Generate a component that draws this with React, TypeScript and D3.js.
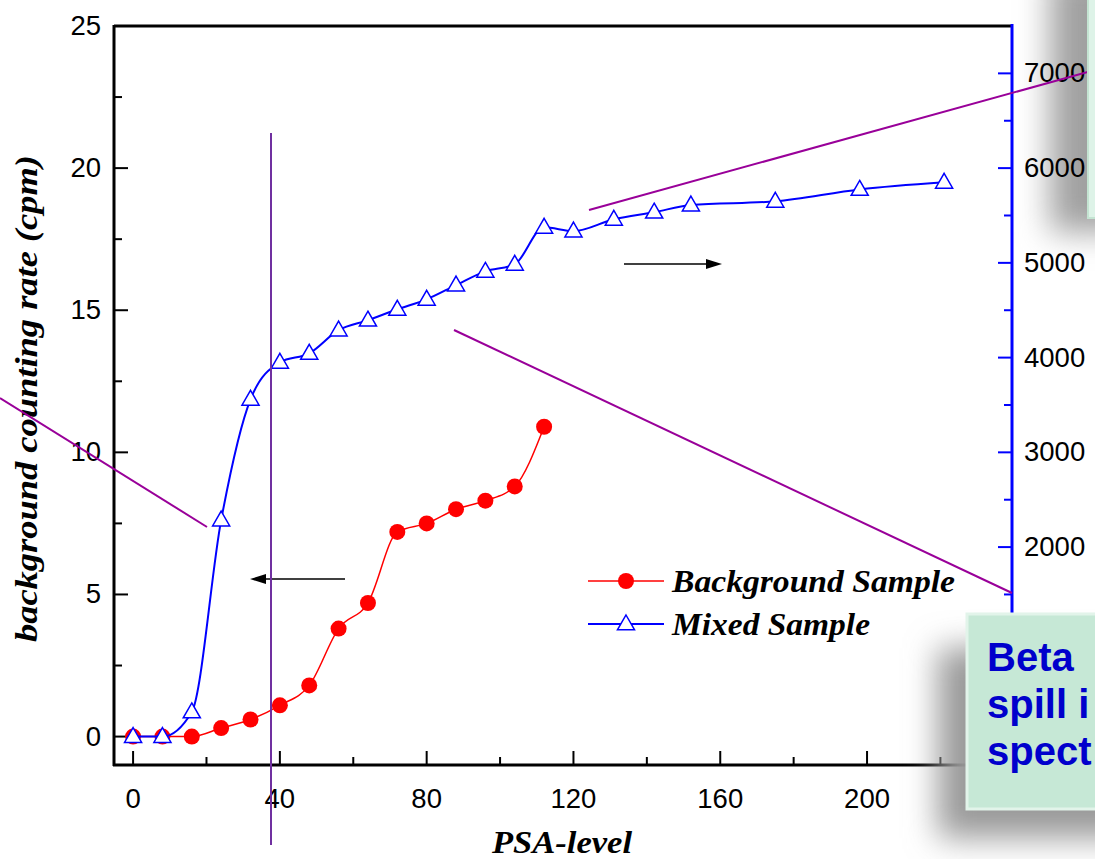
import React from "react";
import * as d3 from "d3";

const psaLevels = [0, 8, 16, 24, 32, 40, 48, 56, 64, 72, 80, 88, 96, 104, 112];
const backgroundCpm = [0, 0, 0, 0.3, 0.6, 1.1, 1.8, 3.8, 4.7, 7.2, 7.5, 8.0, 8.3, 8.8, 10.9];

const mixedLevels = [0, 8, 16, 24, 32, 40, 48, 56, 64, 72, 80, 88, 96, 104, 112, 120, 131, 142, 152, 175, 198, 221];
const mixedCounts = [0, 0, 260, 2285, 3560, 3950, 4045, 4290, 4395, 4510, 4615, 4765, 4910, 4985, 5375, 5335, 5460, 5535, 5610, 5650, 5775, 5850];

const xTickLabels = ["0", "40", "80", "120", "160", "200"];
const xTickValues = [0, 40, 80, 120, 160, 200];
const leftTickValues = [0, 5, 10, 15, 20, 25];
const rightTickValues = [2000, 3000, 4000, 5000, 6000, 7000];

const legendLabels = ["Background Sample", "Mixed Sample"];
const boxLines = ["Beta", "spill i", "spect"];

export default function App() {
  const W = 1095, H = 859;
  const L = 114, R = 1012, T = 26, B = 765;
  const x = d3.scaleLinear().domain([-5.2, 239.5]).range([L, R]);
  const yL = d3.scaleLinear().domain([-1, 25]).range([B, T]);
  const yR = d3.scaleLinear().domain([-300, 7500]).range([B, T]);

  const redLine = d3.line<number>().x((_, i) => x(psaLevels[i])).y((d) => yL(d)).curve(d3.curveMonotoneX);
  const blueLine = d3.line<number>().x((_, i) => x(mixedLevels[i])).y((d) => yR(d)).curve(d3.curveMonotoneX);

  const tickFont = "'Liberation Sans', Arial, sans-serif";
  const serif = "'Liberation Serif', 'Times New Roman', serif";

  const xMinor = d3.range(0, 240, 20);
  const leftMinor = d3.range(0, 25.01, 2.5);
  const rightMinor = d3.range(0, 7500, 500);

  const tri = (cx: number, cy: number, s = 9) => `M${cx},${cy - s} L${cx + s * 0.95},${cy + s * 0.65} L${cx - s * 0.95},${cy + s * 0.65} Z`;

  return (
    <svg width={W} height={H} style={{ position: "absolute", left: 0, top: 0, background: "#fff" }}>
      <defs>
        <filter id="blur" x="-50%" y="-50%" width="200%" height="200%">
          <feGaussianBlur stdDeviation="16" />
        </filter>
        <clipPath id="plotclip">
          <rect x={L} y={T} width={R - L} height={B - T} />
        </clipPath>
      </defs>

      {/* shadow of top-right box (behind labels) */}
      <rect x={1050} y={-30} width={90} height={262} fill="#a0a0a0" filter="url(#blur)" />

      {/* frame */}
      <line x1={L} y1={T} x2={R} y2={T} stroke="#000" strokeWidth={3} />
      <line x1={L} y1={T - 1} x2={L} y2={B + 1} stroke="#000" strokeWidth={3} />
      <line x1={L - 1} y1={B} x2={R} y2={B} stroke="#000" strokeWidth={3} />
      <line x1={R} y1={T - 2} x2={R} y2={B} stroke="#0000ff" strokeWidth={3} />

      {/* x ticks */}
      {xMinor.map((v) => (
        <line key={"xm" + v} x1={x(v)} x2={x(v)} y1={B} y2={B - (v % 40 === 0 ? 14 : 8)} stroke="#000" strokeWidth={2} />
      ))}
      {xTickValues.map((v, i) => (
        <text key={"xl" + v} x={x(v)} y={808} textAnchor="middle" fontFamily={tickFont} fontSize={27.5}>{xTickLabels[i]}</text>
      ))}

      {/* left ticks */}
      {leftMinor.map((v) => (
        <line key={"lm" + v} x1={L} x2={L + (v % 5 === 0 ? 14 : 8)} y1={yL(v)} y2={yL(v)} stroke="#000" strokeWidth={2} />
      ))}
      {leftTickValues.map((v) => (
        <text key={"ll" + v} x={101} y={yL(v) + 9} textAnchor="end" fontFamily={tickFont} fontSize={27.5}>{v}</text>
      ))}

      {/* right ticks */}
      {rightMinor.map((v) => (
        <line key={"rm" + v} x1={R} x2={R - (v % 1000 === 0 ? 14 : 8)} y1={yR(v)} y2={yR(v)} stroke="#0000ff" strokeWidth={2} />
      ))}
      {rightTickValues.map((v) => (
        <text key={"rl" + v} x={1024} y={yR(v) + 9} textAnchor="start" fontFamily={tickFont} fontSize={27.5}>{v}</text>
      ))}

      {/* axis titles */}
      <text x={492} y={853} textLength={140} lengthAdjust="spacingAndGlyphs" fontFamily={serif} fontWeight="bold" fontStyle="italic" fontSize={31}>PSA-level</text>
      <text transform="translate(37,642) rotate(-90)" x={0} y={0} textLength={487} lengthAdjust="spacingAndGlyphs" fontFamily={serif} fontWeight="bold" fontStyle="italic" fontSize={32}>background counting rate (cpm)</text>

      {/* data */}
      <g clipPath="url(#plotclip)">
        <path d={redLine(backgroundCpm) || ""} fill="none" stroke="#ff0000" strokeWidth={1.5} />
        {backgroundCpm.map((v, i) => (
          <circle key={"r" + i} cx={x(psaLevels[i])} cy={yL(v)} r={8} fill="#ff0000" />
        ))}
        <path d={blueLine(mixedCounts) || ""} fill="none" stroke="#0000ff" strokeWidth={2} />
        {mixedCounts.map((v, i) => (
          <path key={"b" + i} d={tri(x(mixedLevels[i]), yR(v))} fill="#fff" stroke="#0000ff" strokeWidth={1.5} />
        ))}
      </g>

      {/* legend */}
      <g>
        <line x1={588} x2={664} y1={581} y2={581} stroke="#ff0000" strokeWidth={1.5} />
        <circle cx={626} cy={581} r={8} fill="#ff0000" />
        <text x={672} y={592} textLength={283} lengthAdjust="spacingAndGlyphs" fontFamily={serif} fontWeight="bold" fontStyle="italic" fontSize={32}>{legendLabels[0]}</text>
        <line x1={588} x2={664} y1={624} y2={624} stroke="#0000ff" strokeWidth={2} />
        <path d={tri(626, 624)} fill="#fff" stroke="#0000ff" strokeWidth={1.5} />
        <text x={672} y={635} textLength={198} lengthAdjust="spacingAndGlyphs" fontFamily={serif} fontWeight="bold" fontStyle="italic" fontSize={32}>{legendLabels[1]}</text>
      </g>

      {/* arrows */}
      <line x1={624} y1={264} x2={712} y2={264} stroke="#000" strokeWidth={1.5} />
      <path d="M722,264 L706,259 L706,269 Z" fill="#000" />
      <line x1={345} y1={579} x2={260} y2={579} stroke="#000" strokeWidth={1.5} />
      <path d="M250,579 L266,574 L266,584 Z" fill="#000" />

      {/* annotation lines */}
      <line x1={271} y1={133} x2={271} y2={845} stroke="#7030a0" strokeWidth={2} />
      <line x1={0} y1={398} x2={207} y2={527} stroke="#990099" strokeWidth={2} />
      <line x1={589} y1={210} x2={1095} y2={70} stroke="#990099" strokeWidth={2} />
      <line x1={454} y1={330} x2={1012} y2={593} stroke="#990099" strokeWidth={2} />

      {/* top-right box */}
      <rect x={1088} y={-2} width={20} height={220} fill="#def3e8" stroke="#c4e4d2" strokeWidth={2} />

      {/* bottom-right box */}
      <rect x={938} y={648} width={200} height={190} fill="#999" filter="url(#blur)" />
      <rect x={967} y={614} width={140} height={195} fill="#c6e8d6" stroke="#e2f4ea" strokeWidth={3} />
      {boxLines.map((t, i) => (
        <text key={"bx" + i} x={987} y={671 + i * 47} fontFamily={tickFont} fontWeight="bold" fontSize={40} fill="#0000cc">{t}</text>
      ))}
    </svg>
  );
}
